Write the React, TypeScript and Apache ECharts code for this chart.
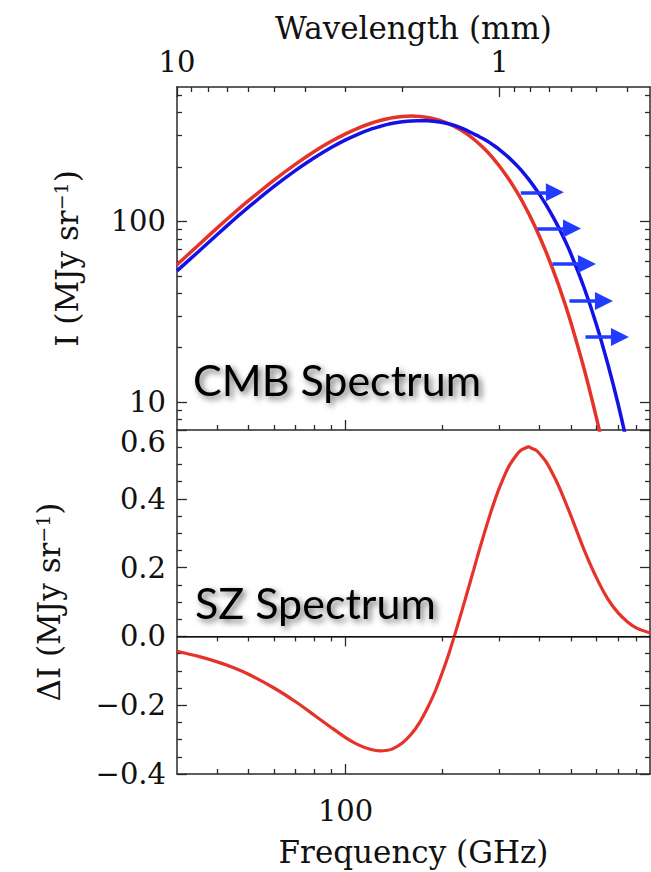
import React, { useEffect, useRef } from 'react';
import * as echarts from 'echarts';

const freqGHz = [30, 35, 40, 45, 50, 60, 70, 80, 90, 100, 110, 120, 128, 135, 140, 150, 160, 170, 180, 190, 200, 210, 220, 230, 240, 250, 260, 270, 280, 290, 300, 320, 340, 350, 360, 370, 380, 390, 400, 420, 450, 475, 500, 550, 600, 650, 700, 750, 800, 880];
// Undistorted CMB spectrum (MJy/sr), red
const cmbUndistorted = [57.5, 74.1, 92.1, 111.0, 130.3, 169.5, 207.8, 243.8, 276.7, 305.5, 330.0, 349.7, 362.2, 370.4, 375.2, 381.1, 383.2, 381.4, 376.5, 368.7, 358.5, 346.3, 332.4, 317.4, 301.6, 285.1, 268.5, 251.6, 235.1, 218.7, 202.7, 172.8, 145.6, 133.2, 121.4, 110.5, 100.3, 90.9, 82.2, 66.9, 48.5, 36.75, 27.6, 15.2, 8.19, 4.32, 2.24, 1.14, 0.57, 0.19];
// SZ-distorted CMB spectrum (MJy/sr), blue
const cmbDistorted = [53.2, 68.2, 84.7, 102.1, 119.9, 156.1, 191.6, 225.0, 255.7, 282.6, 305.6, 324.5, 335.5, 344.8, 349.7, 356.0, 360.2, 361.0, 361.4, 357.8, 353.1, 346.5, 338.0, 327.5, 316.5, 305.0, 294.5, 284.0, 273.0, 261.5, 250.0, 227.0, 204.0, 192.7, 181.5, 170.8, 160.4, 150.3, 140.7, 122.6, 98.4, 81.1, 66.2, 42.8, 26.9, 16.4, 9.81, 5.71, 3.26, 1.28];
// SZ spectrum Delta I (MJy/sr)
const szDeltaI = [-0.043, -0.058, -0.074, -0.091, -0.110, -0.150, -0.190, -0.229, -0.264, -0.294, -0.316, -0.329, -0.333, -0.331, -0.327, -0.310, -0.284, -0.249, -0.206, -0.158, -0.103, -0.045, 0.016, 0.077, 0.137, 0.195, 0.251, 0.303, 0.351, 0.394, 0.432, 0.492, 0.529, 0.541, 0.547, 0.551, 0.546, 0.541, 0.531, 0.506, 0.453, 0.403, 0.351, 0.251, 0.171, 0.110, 0.069, 0.042, 0.024, 0.010];

// Arrows (tail frequency, head frequency, intensity level)
const arrowFromGHz = [349.6, 393.4, 438.3, 495, 555];
const arrowToGHz = [446, 504, 560.8, 633.3, 710];
const arrowLevel = [145, 91.5, 58.2, 36.3, 22.9];

// Axis ticks
const freqMin = 30;
const freqMax = 880;
const freqMajorTicks = [100];
const freqMinorTicks = [40, 50, 60, 70, 80, 90, 200, 300, 400, 500, 600, 700, 800];
const waveMajorTicks = [10, 1];
const waveMinorTicks = [9, 8, 7, 6, 5, 4, 3, 2, 0.9, 0.8, 0.7, 0.6, 0.5, 0.4];
const intensityMin = 7;
const intensityMax = 555;
const intensityMajorTicks = [10, 100];
const intensityMinorTicks = [8, 9, 20, 30, 40, 50, 60, 70, 80, 90, 200, 300, 400, 500];
const deltaMin = -0.4;
const deltaMax = 0.6;
const deltaInterval = 0.2;

const RED = '#e5332a';
const BLUE = '#1212e6';
const ARROW_BLUE = '#1f3cff';
const AXIS_COLOR = '#2a2a2a';
const SERIF = 'DejaVu Serif';

const tickFont = { fontFamily: SERIF, fontSize: 29, color: '#111' };
const nameFont = {
  fontFamily: SERIF,
  fontSize: 31,
  color: '#111',
  rich: {
    sup: { fontFamily: SERIF, fontSize: 19, color: '#111', verticalAlign: 'top' as const },
  },
};

function logAxis(opts: any) {
  const { gridIndex, position, min, max, ticks, len, labels, showLine, inverse, extra } = opts;
  return {
    type: 'log',
    gridIndex,
    position,
    min,
    max,
    inverse: !!inverse,
    axisLine: { show: showLine, lineStyle: { color: AXIS_COLOR, width: 1.5 } },
    axisTick: { show: true, inside: true, length: len, customValues: ticks, lineStyle: { color: AXIS_COLOR, width: 1.3 } },
    axisLabel: labels
      ? { show: true, customValues: labels, margin: 11, ...tickFont }
      : { show: false },
    splitLine: { show: false },
    minorTick: { show: false },
    minorSplitLine: { show: false },
    ...(extra || {}),
  };
}

export default function App() {
  const ref = useRef<HTMLDivElement>(null);

  useEffect(() => {
    if (!ref.current) return;
    const chart = echarts.init(ref.current, undefined, { renderer: 'svg' });
    const waveMin = 300 / freqMax;
    const waveMax = 300 / freqMin;

    const xAxis: any[] = [
      // grid 0 bottom (frequency)
      logAxis({ gridIndex: 0, position: 'bottom', min: freqMin, max: freqMax, ticks: freqMinorTicks, len: 5, showLine: true }),
      logAxis({ gridIndex: 0, position: 'bottom', min: freqMin, max: freqMax, ticks: freqMajorTicks, len: 10, showLine: false }),
      // grid 0 top (wavelength)
      logAxis({ gridIndex: 0, position: 'top', min: waveMin, max: waveMax, inverse: true, ticks: waveMinorTicks, len: 5, showLine: true }),
      logAxis({
        gridIndex: 0, position: 'top', min: waveMin, max: waveMax, inverse: true, ticks: waveMajorTicks, len: 10, showLine: false,
        labels: waveMajorTicks,
        extra: {
          name: 'Wavelength (mm)', nameLocation: 'middle', nameGap: 44, nameTextStyle: nameFont,
        },
      }),
      // grid 1 top (frequency)
      logAxis({ gridIndex: 1, position: 'top', min: freqMin, max: freqMax, ticks: freqMinorTicks, len: 5, showLine: true }),
      logAxis({ gridIndex: 1, position: 'top', min: freqMin, max: freqMax, ticks: freqMajorTicks, len: 10, showLine: false }),
      // grid 1 bottom (frequency)
      logAxis({ gridIndex: 1, position: 'bottom', min: freqMin, max: freqMax, ticks: freqMinorTicks, len: 5, showLine: true }),
      logAxis({
        gridIndex: 1, position: 'bottom', min: freqMin, max: freqMax, ticks: freqMajorTicks, len: 10, showLine: false,
        labels: freqMajorTicks,
        extra: {
          name: 'Frequency (GHz)', nameLocation: 'middle', nameGap: 62, nameTextStyle: nameFont,
        },
      }),
    ];
    xAxis[7].axisLabel.margin = 22;

    const deltaAxis = (position: string, showLabels: boolean) => ({
      type: 'value',
      gridIndex: 1,
      position,
      min: deltaMin,
      max: deltaMax,
      interval: deltaInterval,
      axisLine: { show: true, lineStyle: { color: AXIS_COLOR, width: 1.5 } },
      axisTick: { show: true, inside: true, length: 10, lineStyle: { color: AXIS_COLOR, width: 1.3 } },
      minorTick: { show: true, splitNumber: 4, length: 5, lineStyle: { color: AXIS_COLOR, width: 1.3 } },
      splitLine: { show: false },
      minorSplitLine: { show: false },
      axisLabel: showLabels
        ? {
            show: true,
            margin: 11,
            ...tickFont,
            formatter: (v: number) => {
              if (Math.abs(v - deltaMax) < 1e-9) return '{low|' + v.toFixed(1) + '}';
              const s = Math.abs(v).toFixed(1);
              return v < -1e-9 ? '\u2212' + s : s;
            },
            rich: { low: { ...tickFont, padding: [24, 0, 0, 0] } },
          }
        : { show: false },
      ...(showLabels
        ? { name: 'ΔI (MJy sr{sup|\u22121})', nameLocation: 'middle', nameGap: 113, nameRotate: 90, nameTextStyle: nameFont }
        : {}),
    });

    const yAxis: any[] = [
      logAxis({ gridIndex: 0, position: 'left', min: intensityMin, max: intensityMax, ticks: intensityMinorTicks, len: 5, showLine: true }),
      logAxis({
        gridIndex: 0, position: 'left', min: intensityMin, max: intensityMax, ticks: intensityMajorTicks, len: 10, showLine: false,
        labels: intensityMajorTicks,
        extra: { name: 'I (MJy sr{sup|\u22121})', nameLocation: 'middle', nameGap: 95, nameRotate: 90, nameTextStyle: nameFont },
      }),
      logAxis({ gridIndex: 0, position: 'right', min: intensityMin, max: intensityMax, ticks: intensityMinorTicks, len: 5, showLine: true }),
      logAxis({ gridIndex: 0, position: 'right', min: intensityMin, max: intensityMax, ticks: intensityMajorTicks, len: 10, showLine: false }),
      deltaAxis('left', true),
      deltaAxis('right', false),
    ];

    const shadow = {
      textShadowColor: 'rgba(0,0,0,0.6)',
      textShadowBlur: 6,
      textShadowOffsetX: 3,
      textShadowOffsetY: 3,
    };

    chart.setOption({
      animation: false,
      backgroundColor: '#ffffff',
      grid: [
        { left: 177, top: 87, width: 473, height: 343, containLabel: false, outerBoundsMode: 'none' },
        { left: 177, top: 430, width: 473, height: 344, containLabel: false, outerBoundsMode: 'none' },
      ],
      xAxis,
      yAxis,
      series: [
        {
          type: 'line',
          name: 'CMB',
          xAxisIndex: 0,
          yAxisIndex: 0,
          data: freqGHz.map((f, i) => [f, cmbUndistorted[i]]),
          showSymbol: false,
          smooth: 0.25,
          clip: true,
          lineStyle: { color: RED, width: 3.5 },
          z: 3,
        },
        {
          type: 'line',
          name: 'CMB + SZ',
          xAxisIndex: 0,
          yAxisIndex: 0,
          data: freqGHz.map((f, i) => [f, cmbDistorted[i]]),
          showSymbol: false,
          smooth: 0.25,
          clip: true,
          lineStyle: { color: BLUE, width: 3.5 },
          z: 4,
        },
        {
          type: 'lines',
          coordinateSystem: 'cartesian2d',
          xAxisIndex: 0,
          yAxisIndex: 0,
          symbol: ['none', 'triangle'],
          symbolSize: 18,
          silent: true,
          lineStyle: { color: ARROW_BLUE, width: 3.5, opacity: 1, curveness: 0 },
          data: arrowFromGHz.map((f, i) => ({
            coords: [
              [f, arrowLevel[i]],
              [arrowToGHz[i], arrowLevel[i]],
            ],
          })),
          z: 5,
        },
        {
          type: 'line',
          name: 'SZ',
          xAxisIndex: 6,
          yAxisIndex: 4,
          data: freqGHz.map((f, i) => [f, szDeltaI[i]]),
          showSymbol: false,
          smooth: 0.25,
          clip: true,
          lineStyle: { color: RED, width: 3.2 },
          z: 3,
          markLine: {
            silent: true,
            symbol: ['none', 'none'],
            label: { show: false },
            lineStyle: { color: '#111', width: 1.2, type: 'solid' },
            data: [{ yAxis: 0 }],
          },
        },
      ],
      graphic: [
        {
          type: 'text',
          x: 193,
          y: 379,
          z: 10,
          style: {
            text: 'CMB Spectrum',
            fontFamily: 'Lato',
            fontSize: 43,
            fill: '#000',
            verticalAlign: 'middle',
            align: 'left',
            ...shadow,
          },
        },
        {
          type: 'text',
          x: 195,
          y: 602,
          z: 10,
          style: {
            text: 'SZ Spectrum',
            fontFamily: 'Lato',
            fontSize: 43,
            fill: '#000',
            verticalAlign: 'middle',
            align: 'left',
            ...shadow,
          },
        },
      ],
    });

    return () => chart.dispose();
  }, []);

  return (
    <div
      ref={ref}
      style={{ position: 'fixed', left: 0, top: 0, width: 651, height: 872, background: '#fff' }}
    />
  );
}
